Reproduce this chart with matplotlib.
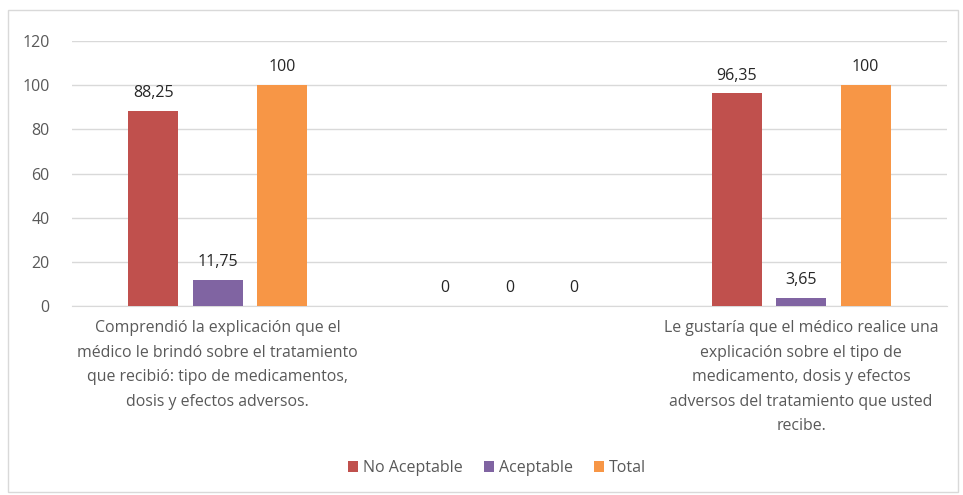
import matplotlib

matplotlib.use("Agg")
import matplotlib.pyplot as plt
import numpy as np
from matplotlib.patches import Rectangle

categories = [
    "Comprendió la explicación que el\nmédico le brindó sobre el tratamiento\nque recibió: tipo de medicamentos,\ndosis y efectos adversos.",
    "",
    "Le gustaría que el médico realice una\nexplicación sobre el tipo de\nmedicamento, dosis y efectos\nadversos del tratamiento que usted\nrecibe.",
]
series = ["No Aceptable", "Aceptable", "Total"]
no_aceptable = [88.25, 0, 96.35]
aceptable = [11.75, 0, 3.65]
total = [100, 0, 100]
yticks = [0, 20, 40, 60, 80, 100, 120]

COLORS = ["#C0504D", "#8064A2", "#F79646"]
TICK = "#595959"
GRID = "#D9D9D9"
LABEL = "#262626"

plt.rcParams["font.family"] = ["Open Sans", "DejaVu Sans"]

W, H = 963, 495
fig = plt.figure(figsize=(W / 100, H / 100), dpi=100, facecolor="white")
ax = fig.add_axes([72 / W, 1 - 306 / H, (947 - 72) / W, (306 - 41) / H])

# chart frame
fig.patches.append(Rectangle((8 / W, 1 - 492 / H), (958 - 8) / W, (492 - 10) / H,
                             transform=fig.transFigure, fill=False,
                             edgecolor=GRID, linewidth=1.0))

x = np.arange(len(categories))
width = 0.172
step = 0.221
for i, (name, vals) in enumerate(zip(series, [no_aceptable, aceptable, total])):
    pos = x + (i - 1) * step
    ax.bar(pos, vals, width, color=COLORS[i], label=name, zorder=3)
    for xp, v in zip(pos, vals):
        txt = f"{v:g}".replace(".", ",")
        ax.annotate(txt, (xp, v), textcoords="offset points", xytext=(0, 7),
                    ha="center", va="bottom", fontsize=11.5, color=LABEL)

ax.set_xlim(-0.5, len(categories) - 0.5)
ax.set_ylim(0, 120)
ax.set_yticks(yticks)
ax.set_yticklabels([str(t) for t in yticks])
ax.set_xticks(x)
ax.set_xticklabels(categories, fontsize=11.4, color=TICK, linespacing=1.72,
                   va="top", ha="center")
ax.tick_params(axis="x", length=0, pad=10)
ax.tick_params(axis="y", length=0, pad=16, labelsize=11.5, labelcolor=TICK)
ax.grid(axis="y", color=GRID, linewidth=1.0, zorder=0)
for side in ("top", "right", "left"):
    ax.spines[side].set_visible(False)
ax.spines["bottom"].set_color(GRID)

fig.legend(loc="center", bbox_to_anchor=(497 / W, 1 - 468 / H), ncol=3,
           frameon=False, fontsize=11.5, handlelength=0.65, handleheight=0.65,
           handletextpad=0.3, columnspacing=1.3, labelcolor=TICK)

fig.savefig("out.png", dpi=100, facecolor="white")
